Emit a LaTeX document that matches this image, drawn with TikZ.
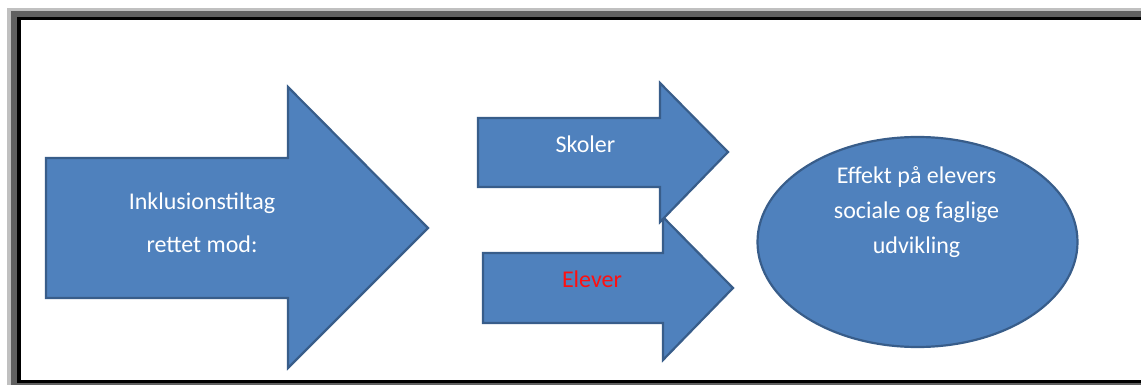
\documentclass[tikz,border=0pt]{standalone}
\usepackage{fontspec}
\setmainfont{Carlito}
\definecolor{shapefill}{HTML}{4F81BD}
\definecolor{shapeline}{HTML}{385D8A}
\definecolor{frameouter}{HTML}{C0C0C0}
\definecolor{framemid}{HTML}{606060}
\definecolor{alertred}{HTML}{FF1010}
\begin{document}
\begin{tikzpicture}[x=1pt,y=-1pt,
  blockshape/.style={fill=shapefill,draw=shapeline,line width=2.2pt,line join=miter},
  blocktext/.style={text=white,align=center,inner sep=0pt,anchor=base},
  textA/.style={blocktext,font=\fontsize{24}{43}\selectfont},
  textB/.style={blocktext,font=\fontsize{24}{35}\selectfont}]
\useasboundingbox (0,0) rectangle (1141,385);
% window frame
\fill[white] (0,0) rectangle (1141,385);
\fill[frameouter] (7,8) rectangle (1141,385);
\fill[framemid] (11,11) rectangle (1141,385);
\fill[black] (17,17) rectangle (1141,382.5);
\fill[white] (21,20.5) rectangle (1141,380);

% large arrow (multi-line labels are placed by their last baseline)
\draw[blockshape] (46,158) -- (288,158) -- (288,87) -- (428,228) -- (288,368)
  -- (288,298) -- (46,298) -- cycle;
\node[textA] (tiltag) at (202,252) {Inklusionstiltag\\rettet mod:};

% lower small arrow (drawn first, the upper one overlaps it)
\draw[blockshape] (483,253) -- (663,253) -- (663,217) -- (733,288) -- (663,360)
  -- (663,323) -- (483,323) -- cycle;
\node[blocktext,font=\fontsize{24}{29}\selectfont,text=alertred] (elever) at (592,287) {Elever};

% upper small arrow
\draw[blockshape] (478,118) -- (660,118) -- (660,83) -- (728,152) -- (660,222)
  -- (660,187) -- (478,187) -- cycle;
\node[blocktext,font=\fontsize{24}{29}\selectfont] (skoler) at (585.5,153) {Skoler};

% outcome ellipse
\draw[blockshape] (917.5,242) ellipse[x radius=160,y radius=105];
\node[textB] (effekt) at (916.5,253) {Effekt på elevers\\sociale og faglige\\udvikling};
\end{tikzpicture}
\end{document}
